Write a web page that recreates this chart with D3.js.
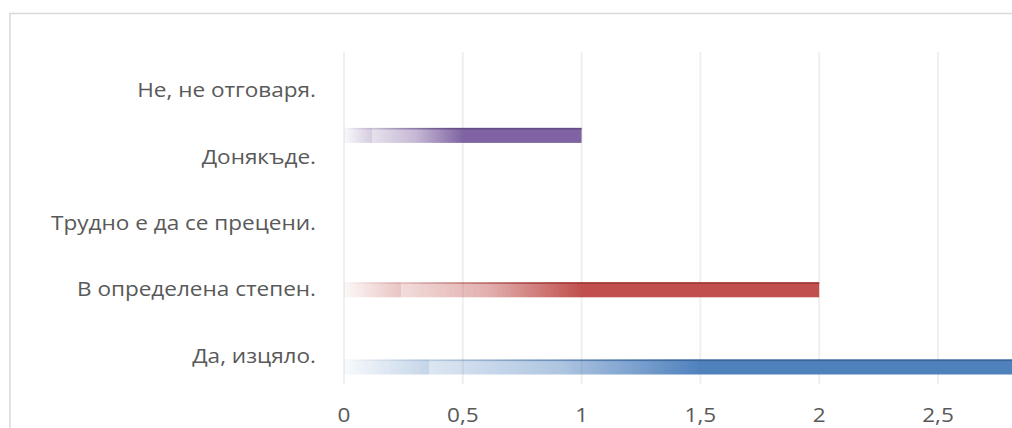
<!DOCTYPE html>
<html>
<head>
<meta charset="utf-8">
<script src="https://cdn.jsdelivr.net/npm/d3@7"></script>
<style>
  html, body { margin: 0; padding: 0; background: #fff; }
  svg { display: block; }
</style>
</head>
<body>
<svg id="chart" width="1012" height="428"></svg>
<script>
// Categories, top to bottom as displayed
const categories = ["Не, не отговаря.", "Донякъде.", "Трудно е да се прецени.", "В определена степен.", "Да, изцяло."];
// Series (Excel order), each series carries one category's value
const seriesNames = ["Да, изцяло.", "В определена степен.", "Трудно е да се прецени.", "Донякъде.", "Не, не отговаря."];
const seriesValues = [3, 2, 0, 1, 0];
const seriesColors = ["#4f81bd", "#c0504d", "#9bbb59", "#8064a2", "#4bacc6"];
const seriesEdge = ["#3a6699", "#9e3a37", "#7a9a42", "#644d85", "#3590a8"];
// visible ticks (the chart is cropped on the right)
const tickValues = [0, 0.5, 1, 1.5, 2, 2.5];
const tickLabels = ["0", "0,5", "1", "1,5", "2", "2,5"];

const svg = d3.select("#chart");
const font = "'Open Sans', 'DejaVu Sans', sans-serif";
const fs = 20.5, sx = 1.1;

// chart border (cropped at right/bottom)
svg.append("rect")
  .attr("x", 10).attr("y", 13.5)
  .attr("width", 1100).attr("height", 500)
  .attr("fill", "#fff")
  .attr("stroke", "#d9d9d9").attr("stroke-width", 1.5);

const plotTop = 52, plotBottom = 384;
const x = d3.scaleLinear().domain([0, 3.5]).range([344, 344 + 3.5 * 237.6]);
const y = d3.scaleBand().domain(categories).range([plotTop, plotBottom]).paddingInner(0).paddingOuter(0);
const bw = y.bandwidth();
const ys = d3.scalePoint().domain(seriesNames).range([bw - 17, bw - 17 - 4 * 10.8]);
const barH = 15;

// gradients
const defs = svg.append("defs");
seriesColors.forEach((c, i) => {
  const g = defs.append("linearGradient").attr("id", "grad" + i)
    .attr("x1", "0").attr("x2", "1").attr("y1", "0").attr("y2", "0");
  [[0, 0.04], [0.119, 0.33], [0.12, 0.2], [0.3, 0.45], [0.5, 1], [1, 1]].forEach(([o, op]) => {
    g.append("stop").attr("offset", o).attr("stop-color", c).attr("stop-opacity", op);
  });
  const e = defs.append("linearGradient").attr("id", "edge" + i)
    .attr("x1", "0").attr("x2", "1").attr("y1", "0").attr("y2", "0");
  [[0, 0.0], [0.12, 0.2], [0.5, 1], [1, 1]].forEach(([o, op]) => {
    e.append("stop").attr("offset", o).attr("stop-color", seriesEdge[i]).attr("stop-opacity", op);
  });
});
defs.append("filter").attr("id", "soft").attr("x", "-5%").attr("y", "-50%").attr("width", "110%").attr("height", "200%")
  .append("feGaussianBlur").attr("stdDeviation", 0.6);

// gridlines
svg.append("g").selectAll("line").data(tickValues).join("line")
  .attr("x1", d => x(d)).attr("x2", d => x(d))
  .attr("y1", plotTop).attr("y2", plotBottom)
  .attr("stroke", "#efefef").attr("stroke-width", 2);

// category labels
svg.append("g").selectAll("text").data(categories).join("text")
  .attr("transform", d => `translate(316,${y(d) + bw / 2 + 12}) scale(${sx},1)`)
  .attr("text-anchor", "end")
  .attr("font-family", font).attr("font-size", fs)
  .attr("fill", "#595959")
  .text(d => d);

// bars
const bars = seriesNames.map((s, i) => ({ s, v: seriesValues[i], i }));
const bg = svg.append("g").attr("filter", "url(#soft)");
bg.selectAll("rect.bar").data(bars.filter(d => d.v > 0)).join("rect")
  .attr("class", "bar")
  .attr("x", x(0))
  .attr("y", d => y(d.s) + ys(d.s) - barH / 2)
  .attr("width", d => x(d.v) - x(0))
  .attr("height", barH)
  .attr("fill", d => "url(#grad" + d.i + ")");
bg.selectAll("rect.edge").data(bars.filter(d => d.v > 0)).join("rect")
  .attr("class", "edge")
  .attr("x", x(0))
  .attr("y", d => y(d.s) + ys(d.s) - barH / 2)
  .attr("width", d => x(d.v) - x(0))
  .attr("height", 1.6)
  .attr("fill", d => "url(#edge" + d.i + ")");

// tick labels
svg.append("g").selectAll("text").data(tickValues).join("text")
  .attr("transform", d => `translate(${x(d)},421.5) scale(${sx},1)`)
  .attr("text-anchor", "middle")
  .attr("font-family", font).attr("font-size", fs)
  .attr("fill", "#595959")
  .text((d, i) => tickLabels[i]);
</script>
</body>
</html>
